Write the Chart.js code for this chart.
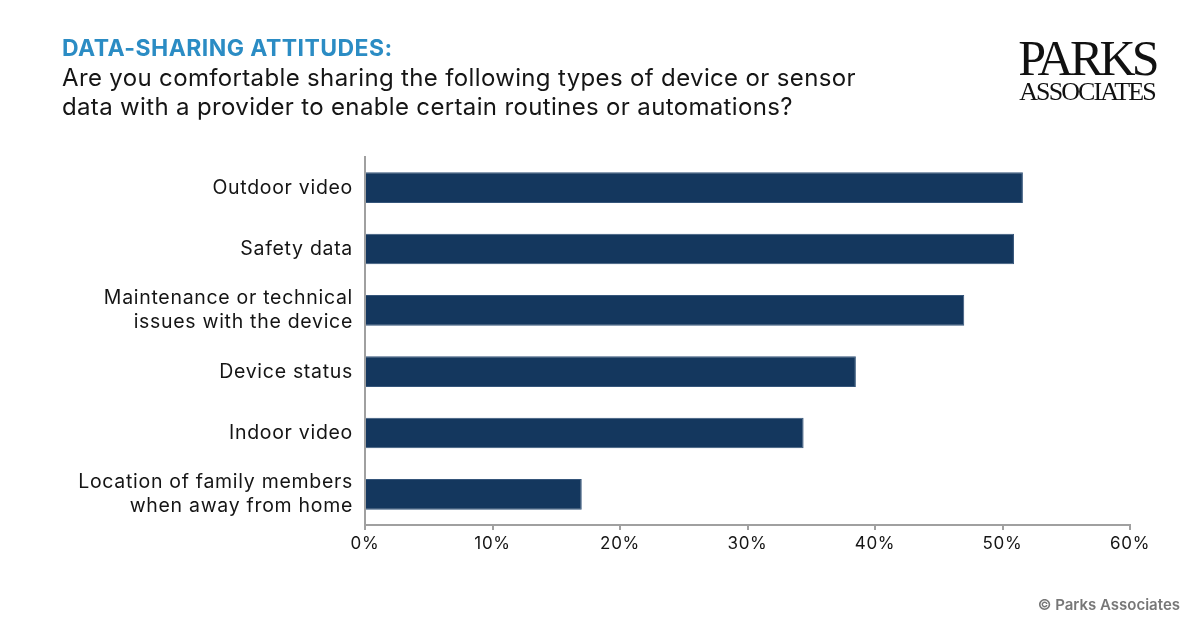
<!DOCTYPE html>
<html>
<head>
<meta charset="utf-8">
<script src="https://cdn.jsdelivr.net/npm/chart.js@4"></script>
<style>
  body { margin: 0; background: #fff; font-family: "Inter", "Noto Sans", sans-serif; }
  #wrap { position: relative; width: 1200px; height: 627px; overflow: hidden; }
  #chart { position: absolute; left: 0; top: 0; }
  .kicker { position: absolute; left: 62px; top: 34px; font-size: 23px; font-weight: 700; color: #2b8cc4; letter-spacing: 0.45px; }
  .question { position: absolute; left: 62px; top: 63px; font-size: 24px; line-height: 29px; color: #151515; letter-spacing: 0.35px; }
  .logo { position: absolute; left: 1016px; top: 36px; font-family: "Liberation Serif", serif; color: #111; text-align: center; width: 142px; }
  .logo .big { font-size: 50px; line-height: 45px; letter-spacing: -3.8px; }
  .logo .small { font-size: 26px; line-height: 22px; letter-spacing: -1.9px; }
  .credit { position: absolute; right: 20px; top: 595px; font-size: 15px; font-weight: 600; color: #777; }
</style>
</head>
<body>
<div id="wrap">
  <canvas id="chart" width="1200" height="627"></canvas>
  <div class="kicker">DATA-SHARING ATTITUDES:</div>
  <div class="question">Are you comfortable sharing the following types of device or sensor<br>data with a provider to enable certain routines or automations?</div>
  <div class="logo"><div class="big">PARKS</div><div class="small">ASSOCIATES</div></div>
  <div class="credit">© Parks Associates</div>
</div>
<script>
const categories = [
  'Outdoor video',
  'Safety data',
  ['Maintenance or technical', 'issues with the device'],
  'Device status',
  'Indoor video',
  ['Location of family members', 'when away from home']
];
const shares = [51.6, 50.9, 47.0, 38.5, 34.4, 17.0];
const tickValues = [0, 10, 20, 30, 40, 50, 60];

// wider text spacing on the canvas, closer to the original typeface
const spacing = {
    id: 'spacing',
    beforeDraw: function (chart) { chart.ctx.letterSpacing = '0.7px'; }
};

document.addEventListener("DOMContentLoaded", function () {
    const ctx = document.getElementById('chart');
    new Chart(ctx, {
        type: 'bar',
        data: {
            labels: categories,
            datasets: [{
                data: shares,
                backgroundColor: '#14375e',
                borderColor: '#35557a',
                borderWidth: 1,
                categoryPercentage: 1,
                barPercentage: 0.5
            }]
        },
        options: {
            indexAxis: 'y',
            responsive: false,
            animation: false,
            layout: { padding: { top: 157, right: 70, bottom: 0, left: 0 } },
            plugins: { legend: { display: false }, tooltip: { enabled: false } },
            scales: {
                x: {
                    min: 0,
                    max: 60,
                    afterBuildTicks: function (scale) {
                        scale.ticks = tickValues.map(v => ({ value: v }));
                    },
                    afterFit: function (scale) { scale.height = 102; },
                    grid: { drawOnChartArea: false, drawTicks: true, tickLength: 5, color: '#a0a0a0', lineWidth: 2 },
                    border: { display: true, color: '#a0a0a0', width: 2 },
                    ticks: {
                        padding: 4,
                        color: '#151515',
                        font: { family: 'Inter', size: 17 },
                        callback: v => v + '%'
                    }
                },
                y: {
                    afterFit: function (scale) { scale.width = 365; },
                    grid: { display: false },
                    border: { display: true, color: '#a0a0a0', width: 2 },
                    ticks: {
                        padding: 4,
                        color: '#151515',
                        font: { family: 'Inter', size: 19.5, lineHeight: 1.25 }
                    }
                }
            }
        },
        plugins: [spacing]
    });
});
</script>
</body>
</html>
